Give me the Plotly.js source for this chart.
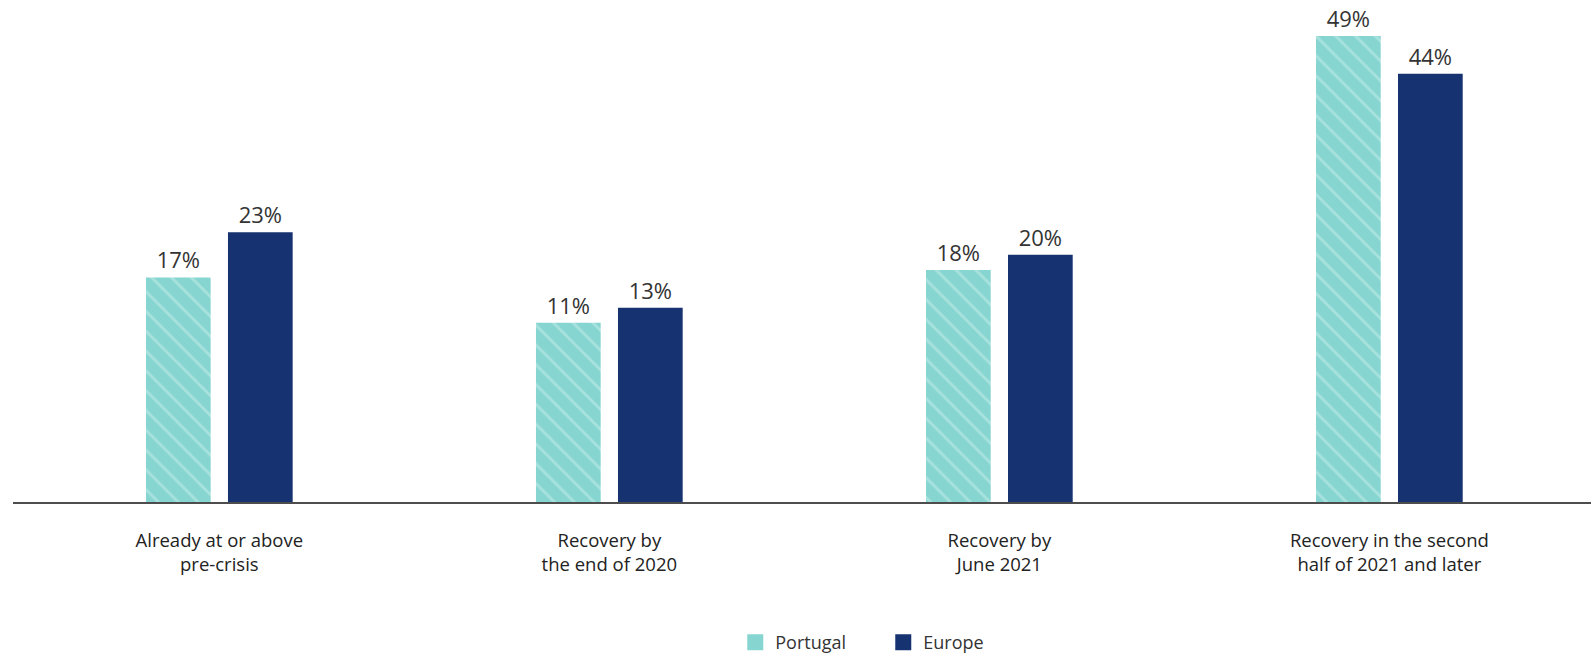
<!DOCTYPE html>
<html>
<head>
<meta charset="utf-8">
<script src="https://cdn.plot.ly/plotly-3.0.1.min.js"></script>
<style>
  html, body { margin: 0; padding: 0; background: #ffffff; }
  #chart { width: 1591px; height: 656px; }
</style>
</head>
<body>
<div id="chart"></div>
<script>
// ---- Data ----
const categories = [
  "Already at or above<br>pre-crisis",
  "Recovery by<br>the end of 2020",
  "Recovery by<br>June 2021",
  "Recovery in the second<br>half of 2021 and later"
];
const portugal = [17, 11, 18, 49];
const europe = [23, 13, 20, 44];
const seriesNames = ["Portugal", "Europe"];

// The value axis of the original does not start at zero
const AXIS_MIN = -12.76;
const AXIS_MAX = 51.12;

const TEAL = "#86D5D0";
const TEAL_STRIPE = "#A8E2DE";
const NAVY = "#163270";
const FONT = "Open Sans, Noto Sans, sans-serif";

function barTrace(name, vals, color, pattern) {
  const marker = { color: color, line: { width: 0 } };
  if (pattern) marker.pattern = pattern;
  return {
    type: "bar",
    name: name,
    x: categories,
    y: vals.map(v => v - AXIS_MIN),
    base: AXIS_MIN,
    customdata: vals,
    text: vals.map(v => v + "%"),
    textposition: "outside",
    cliponaxis: false,
    textfont: { family: FONT, size: 22, color: "#333333" },
    hovertemplate: "%{customdata}%<extra>" + name + "</extra>",
    marker: marker,
    showlegend: false
  };
}

function legendTrace(name, color) {
  return {
    type: "scatter",
    mode: "markers",
    name: name,
    x: [null],
    y: [null],
    marker: { symbol: "square", size: 16, color: color, line: { width: 0 } },
    hoverinfo: "skip",
    showlegend: true
  };
}

const data = [
  barTrace(seriesNames[0], portugal, TEAL, {
    shape: "\\", fillmode: "replace", bgcolor: TEAL, fgcolor: TEAL_STRIPE, size: 14, solidity: 0.2
  }),
  barTrace(seriesNames[1], europe, NAVY, null),
  legendTrace(seriesNames[0], TEAL),
  legendTrace(seriesNames[1], NAVY)
];

const layout = {
  width: 1591,
  height: 656,
  margin: { l: 13, r: 0, t: 20, b: 154, autoexpand: false },
  paper_bgcolor: "#ffffff",
  plot_bgcolor: "#ffffff",
  font: { family: FONT, size: 18, color: "#333333" },
  barmode: "group",
  bargap: 0.5795,
  bargroupgap: 0.211,
  showlegend: true,
  legend: {
    orientation: "h",
    x: 0.5515,
    xanchor: "center",
    yref: "container",
    y: 0.0488,
    yanchor: "top",
    font: { family: FONT, size: 18, color: "#333333" },
    entrywidth: 103,
    entrywidthmode: "pixels",
    itemclick: false,
    itemdoubleclick: false
  },
  xaxis: {
    type: "category",
    range: [-0.529, 3.517],
    showline: true,
    linecolor: "#4d4d4d",
    linewidth: 2,
    showgrid: false,
    zeroline: false,
    ticks: "",
    tickfont: { family: FONT, size: 18.5, color: "#222222" },
    ticklabelstandoff: 21,
    automargin: false,
    fixedrange: true
  },
  yaxis: {
    range: [AXIS_MIN, AXIS_MAX],
    showgrid: false,
    zeroline: false,
    showline: false,
    showticklabels: false,
    ticks: "",
    automargin: false,
    fixedrange: true
  }
};

Plotly.newPlot("chart", data, layout, { displayModeBar: false });
</script>
</body>
</html>
